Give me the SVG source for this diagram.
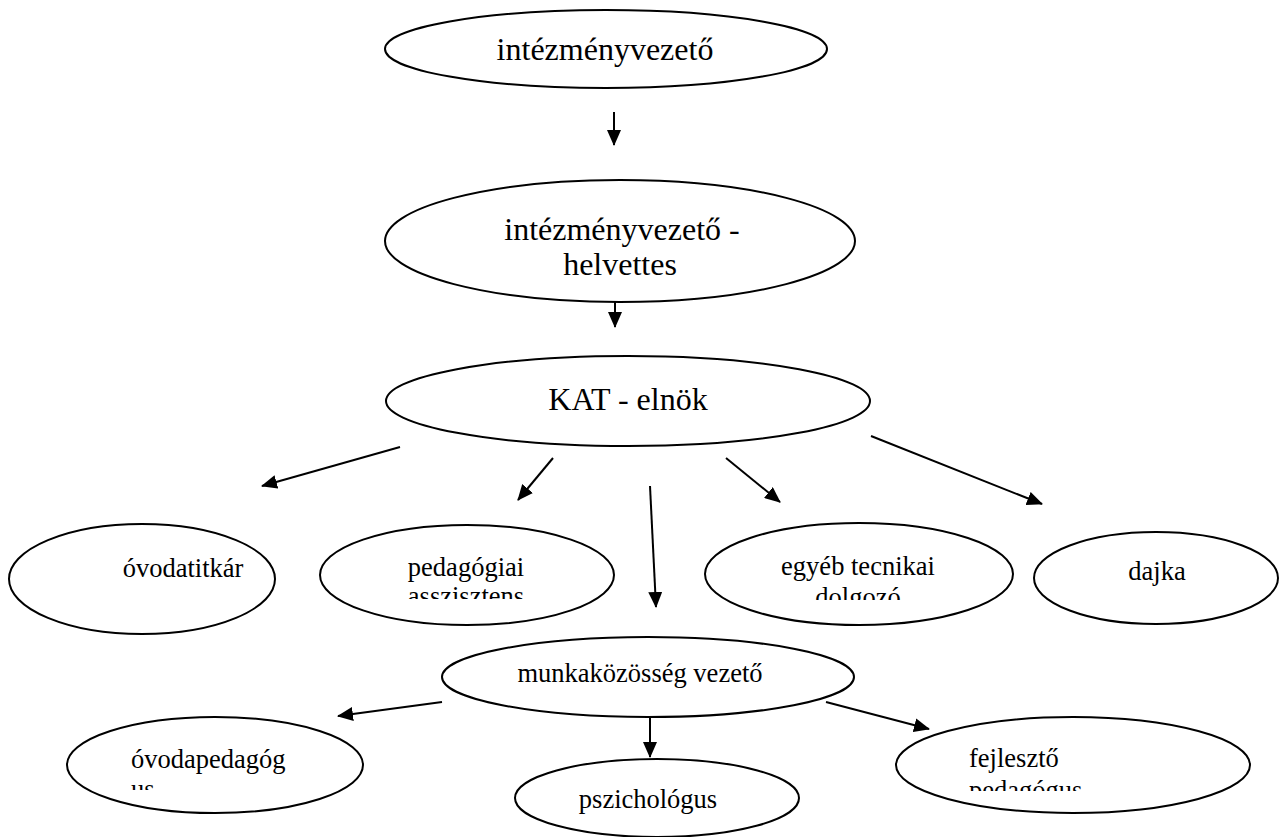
<svg xmlns="http://www.w3.org/2000/svg" width="1280" height="837" viewBox="0 0 1280 837">
<style>
.n{fill:#fff;stroke:#000;stroke-width:2}
text{font-family:'Liberation Serif','DejaVu Serif','Noto Serif',serif;fill:#000}
.b{font-size:32px}
.s{font-size:26.5px}
.c{text-anchor:middle}
.e{stroke:#000;stroke-width:2;fill:none;marker-end:url(#ah)}
</style>
<defs>
<marker id="ah" markerUnits="userSpaceOnUse" markerWidth="16" markerHeight="14" refX="15" refY="7" orient="auto"><path d="M0,0 L16,7 L0,14 Z" fill="#000"/></marker>
<clipPath id="c2"><rect x="380" y="180" width="480" height="97"/></clipPath>
<clipPath id="c5"><rect x="320" y="520" width="300" height="79"/></clipPath>
<clipPath id="c6"><rect x="700" y="520" width="320" height="80"/></clipPath>
<clipPath id="c9"><rect x="60" y="710" width="310" height="80"/></clipPath>
<clipPath id="c11"><rect x="890" y="710" width="370" height="81"/></clipPath>
</defs>
<rect width="1280" height="837" fill="#fff"/>
<g id="connectors">
<line class="e" x1="614" y1="112" x2="614" y2="145"/>
<line class="e" x1="615" y1="298" x2="615" y2="327"/>
<line class="e" x1="400" y1="447" x2="262" y2="486"/>
<line class="e" x1="553" y1="458" x2="518" y2="500"/>
<line class="e" x1="650" y1="486" x2="656" y2="607"/>
<line class="e" x1="726" y1="458" x2="780" y2="502"/>
<line class="e" x1="871" y1="436" x2="1042" y2="504"/>
<line class="e" x1="442" y1="702" x2="338" y2="716"/>
<line class="e" x1="650" y1="717" x2="650" y2="757"/>
<line class="e" x1="826" y1="702" x2="929" y2="729"/>
</g>
<g id="n1"><ellipse class="n" cx="606" cy="49" rx="221" ry="39"/><text class="b c" x="605" y="60">intézményvezető</text></g>
<g id="n2"><ellipse class="n" cx="620" cy="241" rx="235" ry="61"/><g clip-path="url(#c2)"><text class="b c" x="622" y="240">intézményvezető -</text><text class="b c" x="620" y="275">helvettes</text></g></g>
<g id="n3"><ellipse class="n" cx="628" cy="401" rx="242" ry="45"/><text class="b c" x="628" y="410">KAT - elnök</text></g>
<g id="n4"><ellipse class="n" cx="142" cy="579" rx="133" ry="55"/><text class="s c" x="183" y="577">óvodatitkár</text></g>
<g id="n5"><ellipse class="n" cx="467" cy="575" rx="147" ry="50"/><g clip-path="url(#c5)"><text class="s c" x="466" y="576">pedagógiai</text><text class="s c" x="466" y="605">asszisztens</text></g></g>
<g id="n6"><ellipse class="n" cx="859" cy="574" rx="154" ry="51"/><g clip-path="url(#c6)"><text class="s c" x="858" y="575">egyéb tecnikai</text><text class="s c" x="858" y="606">dolgozó</text></g></g>
<g id="n7"><ellipse class="n" cx="1156" cy="578" rx="122" ry="46"/><text class="s c" x="1157" y="580">dajka</text></g>
<g id="n8"><ellipse class="n" cx="648" cy="677" rx="206" ry="40"/><text class="s c" x="640" y="682">munkaközösség vezető</text></g>
<g id="n9"><ellipse class="n" cx="215" cy="765" rx="148" ry="48"/><g clip-path="url(#c9)"><text class="s" x="131" y="768">óvodapedagóg</text><text class="s" x="131" y="798">us</text></g></g>
<g id="n10"><ellipse class="n" cx="657" cy="798" rx="142" ry="39"/><text class="s c" x="648" y="808">pszichológus</text></g>
<g id="n11"><ellipse class="n" cx="1073" cy="765" rx="177" ry="48"/><g clip-path="url(#c11)"><text class="s" x="969" y="767">fejlesztő</text><text class="s" x="969" y="799">pedagógus</text></g></g>
</svg>
